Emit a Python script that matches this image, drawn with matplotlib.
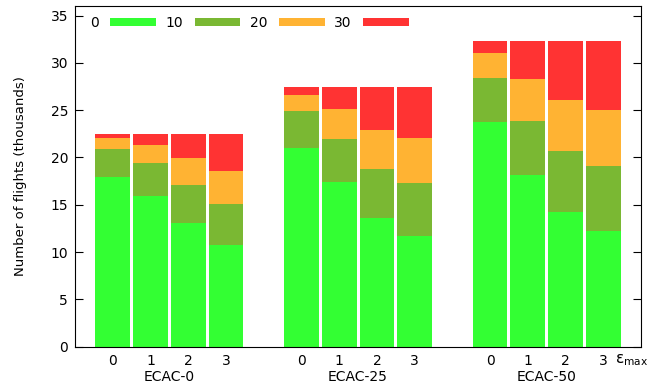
import matplotlib.pyplot as plt
import numpy as np

plt.rcParams['font.family'] = ['DejaVu Sans']

# segment heights (thousands of flights), bars: ECAC-0 eps 0..3, ECAC-25 eps 0..3, ECAC-50 eps 0..3
d0 = [17.9, 15.9, 13.1, 10.7, 21.0, 17.4, 13.55, 11.65, 23.7, 18.1, 14.2, 12.2]
d10 = [3.0, 3.5, 3.95, 4.4, 3.9, 4.5, 5.25, 5.65, 4.7, 5.75, 6.5, 6.9]
d20 = [1.15, 1.9, 2.85, 3.5, 1.7, 3.2, 4.1, 4.75, 2.65, 4.45, 5.4, 5.9]
d30 = [0.45, 1.2, 2.6, 3.9, 0.8, 2.3, 4.5, 5.35, 1.25, 4.0, 6.2, 7.3]
layers = ['0', '10', '20', '30']
colors = ['#33ff33', '#7ab833', '#ffb333', '#ff3333']
groups = ['ECAC-0', 'ECAC-25', 'ECAC-50']
eps = ['0', '1', '2', '3']

x = np.array([g * 5 + e for g in range(3) for e in range(4)])

fig = plt.figure(figsize=(6.68, 3.88), dpi=100)
ax = fig.add_axes([0.1123, 0.1064, 0.8473, 0.878])

bottom = np.zeros(len(x))
for vals, lab, c in zip([d0, d10, d20, d30], layers, colors):
    ax.bar(x, vals, width=0.92, bottom=bottom, color=c, label=lab, linewidth=0)
    bottom += np.array(vals)

ax.set_xlim(-1, 14)
ax.set_ylim(0, 36)
ax.set_yticks(range(0, 36, 5))
ax.tick_params(axis='y', direction='in', length=6, right=True, labelsize=10, width=0.8, pad=5)
ax.tick_params(axis='x', length=0, labelsize=10, pad=5)
ax.set_xticks(x)
ax.set_xticklabels(eps * 3)
for g, name in enumerate(groups):
    ax.text(g * 5 + 1.5, -0.088, name, transform=ax.get_xaxis_transform(),
            ha='center', va='center', fontsize=10)
ax.text(13.3, -0.04, r'$\mathregular{\varepsilon_{max}}$', transform=ax.get_xaxis_transform(),
        ha='left', va='center', fontsize=11)
ax.set_ylabel('Number of flights (thousands)', fontsize=9.5)
ax.yaxis.set_label_coords(-0.085, 0.5)

ax.legend(loc='upper left', ncol=4, frameon=False, markerfirst=False, fontsize=10,
          handlelength=3.3, handleheight=0.55, handletextpad=0.8, columnspacing=0.7,
          bbox_to_anchor=(0.01, 1.0), borderaxespad=0.3)

fig.savefig('out.png', dpi=100)
